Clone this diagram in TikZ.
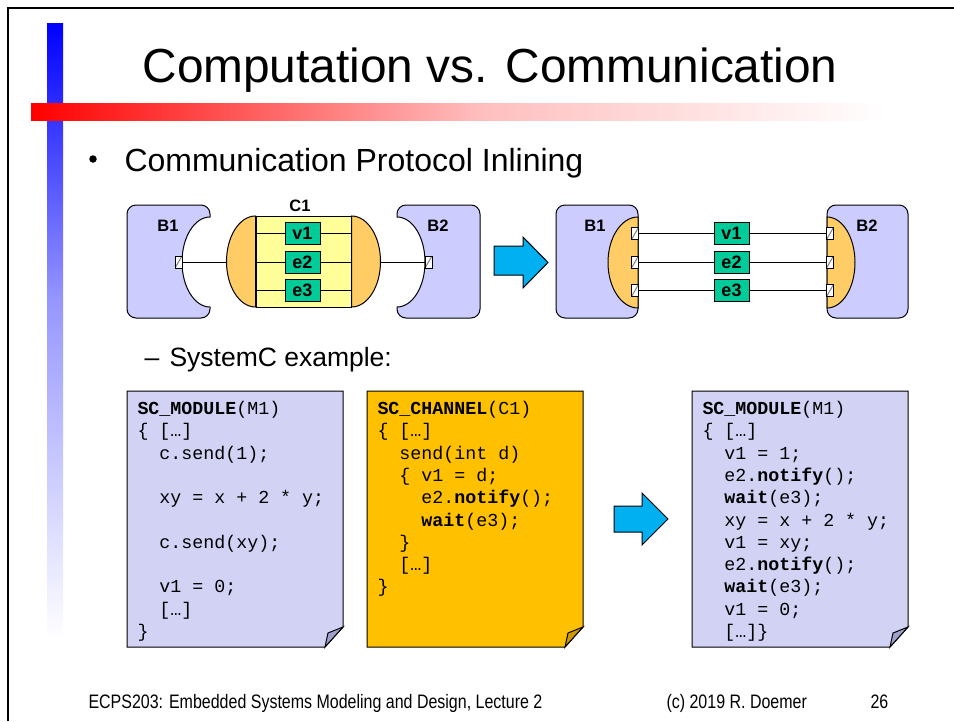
\documentclass[tikz,border=0pt]{standalone}
\usepackage{fontspec}
\setmainfont{Liberation Sans}
\newfontfamily\codefont{Liberation Mono}
\newfontfamily\narrowfont[FakeStretch=0.82]{Liberation Sans}
\usetikzlibrary{positioning}

\definecolor{blocklav}{RGB}{204,204,255}
\definecolor{codelav}{RGB}{210,210,245}
\definecolor{codelavdk}{RGB}{160,160,205}
\definecolor{portorange}{RGB}{255,204,102}
\definecolor{chanyellow}{RGB}{255,255,153}
\definecolor{vargreen}{RGB}{0,204,153}
\definecolor{codeorange}{RGB}{255,192,0}
\definecolor{codeorangedk}{RGB}{204,153,0}
\definecolor{arrowblue}{RGB}{0,176,240}
\definecolor{barmidblue}{RGB}{150,150,255}
\definecolor{barmidred}{RGB}{255,190,190}

% first line of a listing gets a fixed height, so north west is 16pt above its baseline
\newcommand{\firstline}{\rule{0pt}{16pt}}

\tikzset{
  port/.style={draw, fill=white, inner sep=0, minimum width=7, minimum height=12,
    path picture={\draw[gray] (path picture bounding box.south west) -- (path picture bounding box.north east);}},
  var/.style={draw, fill=vargreen, inner sep=0, minimum width=35, minimum height=22,
    font=\fontsize{18}{18}\selectfont\bfseries},
  blocklabel/.style={inner sep=0, font=\fontsize{16.5}{16.5}\selectfont\bfseries},
  slidetext/.style={anchor=base west, inner sep=0},
  code/.style={align=left, inner sep=0, anchor=north west,
    font=\codefont\fontsize{18.3}{22.3}\selectfont},
}

\begin{document}
\begin{tikzpicture}[x=1pt, y=1pt, line width=1]
  \useasboundingbox (0,0) rectangle (954,-721);
  % frame and colour bars
  \draw[line width=2.5] (8,-721) -- (8,-8) -- (954,-8);
  \shade[top color=blue, bottom color=barmidblue] (47,-23) rectangle (63,-300);
  \shade[top color=barmidblue, bottom color=white] (47,-300) rectangle (63,-640);
  \shade[left color=red, right color=barmidred] (31,-103) rectangle (480,-120);
  \shade[left color=barmidred, right color=white] (480,-103) rectangle (885,-120);

  \node[slidetext, font=\fontsize{47.8}{50}\selectfont] (title) at (142,-82) {Computation vs. Communication};
  \node[circle, fill, inner sep=0, minimum size=7.5] (dot) at (93,-159) {};
  \node[slidetext, font=\fontsize{32}{36}\selectfont] (point) at (124,-171) {Communication Protocol Inlining};

  % before: B1 -- C1 -- B2
  \draw[fill=blocklav] (136,-205) -- (201,-205) arc[start angle=90, end angle=0, radius=9]
    -- (210,-217) arc[start angle=90, end angle=270, x radius=28, y radius=45]
    -- (210,-309) arc[start angle=0, end angle=-90, radius=9]
    -- (136,-318) arc[start angle=270, end angle=180, radius=9]
    -- (127,-214) arc[start angle=180, end angle=90, radius=9] -- cycle;
  \draw[fill=blocklav] (406,-205) -- (471,-205) arc[start angle=90, end angle=0, radius=9]
    -- (480,-309) arc[start angle=0, end angle=-90, radius=9]
    -- (406,-318) arc[start angle=270, end angle=180, radius=9]
    -- (397,-307) arc[start angle=270, end angle=450, x radius=28, y radius=45]
    -- (397,-214) arc[start angle=180, end angle=90, radius=9] -- cycle;
  \node[port] (lp1) at (178.5,-262) {};
  \node[port] (lp2) at (428.5,-262) {};

  \node[draw, fill=chanyellow, inner sep=0, minimum width=95, minimum height=91] (c1) at (303.5,-262) {};
  \draw[fill=portorange] (c1.north west) arc[start angle=90, end angle=270, x radius=29, y radius=45.5] -- cycle;
  \draw[fill=portorange] (c1.north east) arc[start angle=90, end angle=-90, x radius=29, y radius=45.5] -- cycle;
  \node[var] (v1) at (302.5,-233.5) {v1};
  \node[var] (e2) at (302.5,-262) {e2};
  \node[var] (e3) at (302.5,-290.5) {e3};
  \foreach \n in {v1,e2,e3}
    \draw (c1.west |- \n.west) -- (\n.west) (\n.east) -- (c1.east |- \n.east);
  \draw (lp1.east) -- ([xshift=-29pt]c1.west);
  \draw ([xshift=29pt]c1.east) -- (lp2.west);
  \node[blocklabel] (c1name) at (300,-206) {C1};
  \node[blocklabel] (lb1) at (168,-226) {B1};
  \node[blocklabel] (lb2) at (438,-226) {B2};

  \draw[fill=arrowblue] (494,-246) -- (523,-246) -- (523,-237) -- (548,-262.5)
    -- (523,-288) -- (523,-275) -- (494,-275) -- cycle;

  % after: inlined protocol
  \draw[fill=blocklav, rounded corners=9] (556,-205) rectangle (638,-318);
  \draw[fill=portorange] (638,-217) arc[start angle=90, end angle=270, x radius=30, y radius=45.5] -- cycle;
  \draw[fill=blocklav, rounded corners=9] (827,-205) rectangle (908,-318);
  \draw[fill=portorange] (827,-217) arc[start angle=90, end angle=-90, x radius=28, y radius=45.5] -- cycle;
  \node[var] (rv1) at (731.5,-233.5) {v1};
  \node[var] (re2) at (731.5,-262) {e2};
  \node[var] (re3) at (731.5,-290.5) {e3};
  \foreach \i/\n in {1/rv1,2/re2,3/re3} {
    \node[port] (rp\i) at (635,0 |- \n) {};
    \node[port] (rq\i) at (830,0 |- \n) {};
    \draw (rp\i.east) -- (\n.west) (\n.east) -- (rq\i.west);
  }
  \node[blocklabel] (rb1) at (595,-226) {B1};
  \node[blocklabel] (rb2) at (867,-226) {B2};

  \node[slidetext, font=\fontsize{26.5}{30}\selectfont] (dash) at (144,-366) {–};
  \node[slidetext, font=\fontsize{26.5}{30}\selectfont] (sub) at (169,-366) {SystemC example:};

  % code listings
  \draw[fill=codelav] (127,-391) -- (343,-391) -- (343,-627) -- (325,-647) -- (127,-647) -- cycle;
  \draw[fill=codelavdk] (325,-647) -- (328,-633) -- (343,-627) -- cycle;
  \node[code] (m1old) at (137,-398) {\firstline\textbf{SC\_MODULE}(M1)\\
    \{ […]\\
    ~~c.send(1);\\
    \mbox{}\\
    ~~xy = x + 2 * y;\\
    \mbox{}\\
    ~~c.send(xy);\\
    \mbox{}\\
    ~~v1 = 0;\\
    ~~[…]\\
    \}};

  \draw[fill=codeorange] (367,-391) -- (583,-391) -- (583,-627) -- (565,-647) -- (367,-647) -- cycle;
  \draw[fill=codeorangedk] (565,-647) -- (568,-633) -- (583,-627) -- cycle;
  \node[code] (c1code) at (377,-398) {\firstline\textbf{SC\_CHANNEL}(C1)\\
    \{ […]\\
    ~~send(int d)\\
    ~~\{ v1 = d;\\
    ~~~~e2.\textbf{notify}();\\
    ~~~~\textbf{wait}(e3);\\
    ~~\}\\
    ~~[…]\\
    \}};

  \draw[fill=arrowblue] (614,-506) -- (642,-506) -- (642,-493) -- (668,-519)
    -- (642,-545) -- (642,-532) -- (614,-532) -- cycle;

  \draw[fill=codelav] (692,-391) -- (908,-391) -- (908,-627) -- (890,-647) -- (692,-647) -- cycle;
  \draw[fill=codelavdk] (890,-647) -- (893,-633) -- (908,-627) -- cycle;
  \node[code] (m1new) at (702,-398) {\firstline\textbf{SC\_MODULE}(M1)\\
    \{ […]\\
    ~~v1 = 1;\\
    ~~e2.\textbf{notify}();\\
    ~~\textbf{wait}(e3);\\
    ~~xy = x + 2 * y;\\
    ~~v1 = xy;\\
    ~~e2.\textbf{notify}();\\
    ~~\textbf{wait}(e3);\\
    ~~v1 = 0;\\
    ~~[…]\}};

  % footer
  \node[slidetext, font=\narrowfont\fontsize{19.5}{22}\selectfont] (foot) at (88,-708)
    {ECPS203: Embedded Systems Modeling and Design, Lecture 2};
  \node[slidetext, font=\narrowfont\fontsize{19.5}{22}\selectfont] (copy) at (666,-708) {(c) 2019 R. Doemer};
  \node[slidetext, font=\narrowfont\fontsize{19.5}{22}\selectfont] (page) at (870,-708) {26};
\end{tikzpicture}
\end{document}
